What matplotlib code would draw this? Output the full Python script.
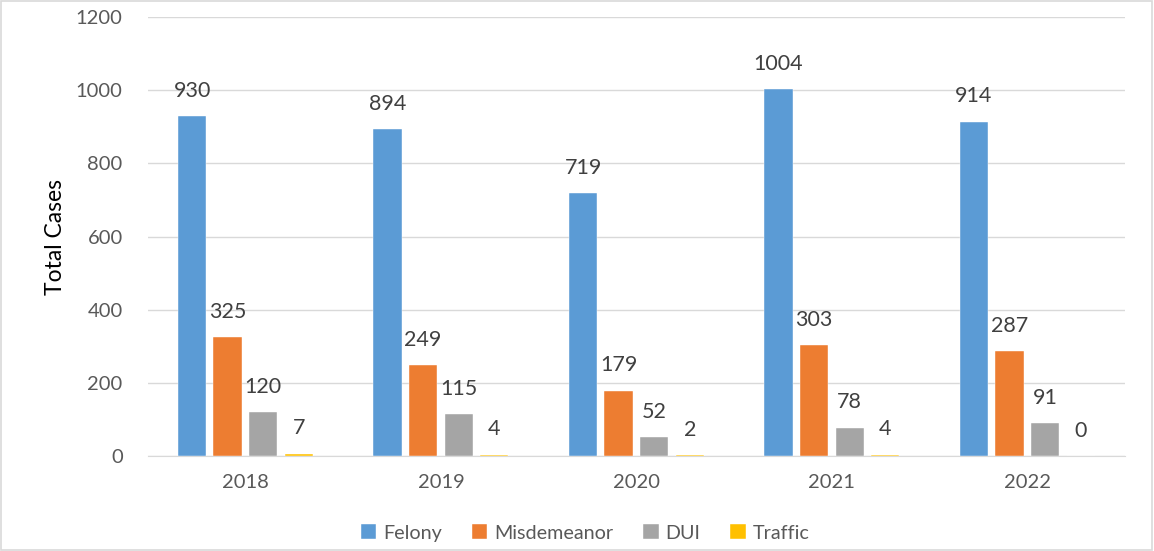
import numpy as np
import matplotlib.pyplot as plt
from matplotlib.patches import Rectangle

years = ["2018", "2019", "2020", "2021", "2022"]
felony = [930, 894, 719, 1004, 914]
misdemeanor = [325, 249, 179, 303, 287]
dui = [120, 115, 52, 78, 91]
traffic = [7, 4, 2, 4, 0]

series = [
    ("Felony", felony, "#5B9BD5"),
    ("Misdemeanor", misdemeanor, "#ED7D31"),
    ("DUI", dui, "#A5A5A5"),
    ("Traffic", traffic, "#FFC000"),
]

plt.rcParams['font.family'] = ['Lato', 'DejaVu Sans']

fig = plt.figure(figsize=(11.54, 5.51), dpi=100)
ax = fig.add_axes([0.128, 0.172, 0.847, 0.797])

x = np.arange(len(years))
step = 0.182
width = 0.145
for i, (name, vals, col) in enumerate(series):
    pos = x + (i - 1.5) * step
    ax.bar(pos, vals, width, color=col, edgecolor="white", linewidth=0.3,
           label=name, zorder=3)
    for p, v in zip(pos, vals):
        ax.annotate(str(v), (p, v), xytext=(0, 11), textcoords="offset points",
                    ha="center", va="bottom", fontsize=15.5, color="#404040")

ax.set_xlim(-0.5, len(years) - 0.5)
ax.set_ylim(0, 1200)
ax.set_yticks(range(0, 1201, 200))
ax.set_xticks(x)
ax.set_xticklabels(years)
ax.grid(axis="y", color="#D9D9D9", linewidth=1, zorder=0)
for s in ["top", "right", "left"]:
    ax.spines[s].set_visible(False)
ax.spines["bottom"].set_color("#D9D9D9")
ax.tick_params(axis="both", length=0, labelsize=14.5, labelcolor="#595959")
ax.tick_params(axis="x", pad=13)
ax.tick_params(axis="y", pad=18)
ax.set_ylabel("Total Cases", fontsize=16.5, color="black", labelpad=7)

handles, labels = ax.get_legend_handles_labels()
fig.legend(handles, labels, loc="center", bbox_to_anchor=(0.507, 0.033), ncol=4,
           frameon=False, fontsize=14.2, labelcolor="#595959", handlelength=0.8,
           handleheight=0.8, handletextpad=0.35, columnspacing=1.5)

# light frame around the whole chart
fig.patches.append(Rectangle((0.001, 0.001), 0.997, 0.997, transform=fig.transFigure,
                             fill=False, edgecolor="#D9D9D9", linewidth=1.2))

fig.savefig("out.png", dpi=100)
